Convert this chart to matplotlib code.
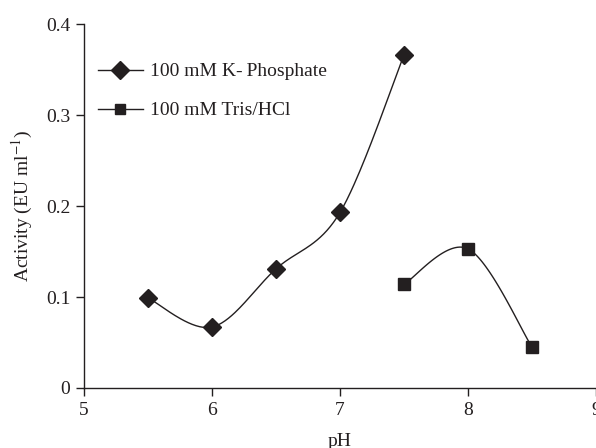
import numpy as np
import matplotlib
matplotlib.use("Agg")
import matplotlib.pyplot as plt

# pH activity profiles for the two buffers
ph_phosphate = [5.5, 6.0, 6.5, 7.0, 7.5]
act_phosphate = [0.099, 0.067, 0.131, 0.193, 0.366]
ph_tris = [7.5, 8.0, 8.5]
act_tris = [0.114, 0.153, 0.045]

x_ticks = [5, 6, 7, 8, 9]
y_ticks = [0, 0.1, 0.2, 0.3, 0.4]
y_tick_labels = ["0", "0.1", "0.2", "0.3", "0.4"]

INK = "#231f20"


def smooth(x, y, n=40):
    """Bezier smoothing through the points, spreadsheet style."""
    x = np.asarray(x, float)
    y = np.asarray(y, float)
    px = np.concatenate([[x[0]], x, [x[-1]]])
    py = np.concatenate([[y[0]], y, [y[-1]]])
    xs, ys = [], []
    t = np.linspace(0, 1, n)
    for i in range(len(x) - 1):
        p0 = np.array([px[i + 1], py[i + 1]])
        p3 = np.array([px[i + 2], py[i + 2]])
        p1 = p0 + (np.array([px[i + 2], py[i + 2]]) - np.array([px[i], py[i]])) / 6
        p2 = p3 - (np.array([px[i + 3], py[i + 3]]) - np.array([px[i + 1], py[i + 1]])) / 6
        b = ((1 - t) ** 3)[:, None] * p0 + (3 * (1 - t) ** 2 * t)[:, None] * p1 \
            + (3 * (1 - t) * t ** 2)[:, None] * p2 + (t ** 3)[:, None] * p3
        xs.extend(b[:, 0])
        ys.extend(b[:, 1])
    return xs, ys


plt.rcParams["font.family"] = ["Liberation Serif", "DejaVu Serif"]
plt.rcParams["mathtext.fontset"] = "stix"

fig = plt.figure(figsize=(5.96, 4.48), dpi=100)
ax = fig.add_axes([0.141, 0.134, 0.859, 0.812])

sx, sy = smooth(ph_phosphate, act_phosphate)
ax.plot(sx, sy, color=INK, lw=1.0)
ax.plot(ph_phosphate, act_phosphate, ls="none", marker="D", ms=9, color=INK)
sx, sy = smooth(ph_tris, act_tris)
ax.plot(sx, sy, color=INK, lw=1.0)
ax.plot(ph_tris, act_tris, ls="none", marker="s", ms=8, color=INK)

# legend proxies
h1, = ax.plot([], [], color=INK, lw=1.0, marker="D", ms=9)
h2, = ax.plot([], [], color=INK, lw=1.0, marker="s", ms=7)
ax.legend([h1, h2], ["100 mM K-\u2009Phosphate", "100 mM Tris/HCl"],
          loc="upper left", bbox_to_anchor=(0.027, 0.894), frameon=False,
          borderpad=0, borderaxespad=0,
          fontsize=14, handlelength=2.3, handletextpad=0.4,
          labelspacing=1.1, labelcolor=INK)

ax.set_xlim(5, 9)
ax.set_ylim(0, 0.4)
ax.set_xticks(x_ticks)
ax.set_yticks(y_ticks)
ax.set_yticklabels(y_tick_labels)
for side in ["top", "right"]:
    ax.spines[side].set_visible(False)
for side in ["left", "bottom"]:
    ax.spines[side].set_color(INK)
    ax.spines[side].set_linewidth(1.0)
ax.tick_params(direction="out", length=6, width=1.0, colors=INK,
               labelsize=14, pad=4)
ax.set_xlabel("pH", fontsize=14, color=INK, labelpad=10)
ax.set_ylabel("Activity (EU ml$^{-1}$)", fontsize=14, color=INK, labelpad=8)

fig.savefig("out.png", dpi=100)
